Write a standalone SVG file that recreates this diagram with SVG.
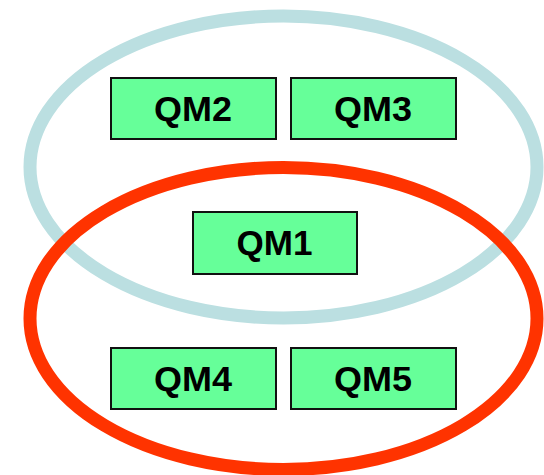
<svg xmlns="http://www.w3.org/2000/svg" width="544" height="475" viewBox="0 0 544 475">
  <style>
    .ring { fill: none; stroke-width: 13; }
    .box { fill: #66ff99; stroke: #111; stroke-width: 2; }
    .lbl { font-family: "Liberation Sans", Arial, sans-serif; font-weight: bold; font-size: 35px; fill: #000; text-anchor: middle; }
  </style>
  <rect width="544" height="475" fill="#fff"/>
  <g id="connectors">
    <ellipse id="blue-ring" class="ring" cx="283.5" cy="167" rx="253.5" ry="151" stroke="#bbdfe1"/>
    <ellipse id="red-ring" class="ring" cx="283.5" cy="318.5" rx="253.5" ry="151" stroke="#ff3300"/>
  </g>
  <g id="QM2">
    <rect class="box" x="111" y="78" width="165" height="61"/>
    <text class="lbl" x="193" y="121" textLength="78" lengthAdjust="spacingAndGlyphs">QM2</text>
  </g>
  <g id="QM3">
    <rect class="box" x="291" y="78" width="165" height="61"/>
    <text class="lbl" x="373" y="121" textLength="78" lengthAdjust="spacingAndGlyphs">QM3</text>
  </g>
  <g id="QM1">
    <rect class="box" x="193" y="212" width="164" height="62"/>
    <text class="lbl" x="274.5" y="255" textLength="76" lengthAdjust="spacingAndGlyphs">QM1</text>
  </g>
  <g id="QM4">
    <rect class="box" x="111" y="348" width="165" height="61"/>
    <text class="lbl" x="193" y="391" textLength="78" lengthAdjust="spacingAndGlyphs">QM4</text>
  </g>
  <g id="QM5">
    <rect class="box" x="291" y="348" width="165" height="61"/>
    <text class="lbl" x="373" y="391" textLength="78" lengthAdjust="spacingAndGlyphs">QM5</text>
  </g>
</svg>
